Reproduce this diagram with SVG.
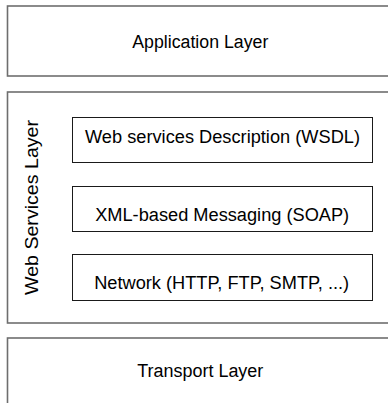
<svg xmlns="http://www.w3.org/2000/svg" width="388" height="403" viewBox="0 0 388 403">
<style>
.outer{fill:#fff;stroke:#6e6e6e;stroke-width:1.6}
.inner{fill:#fff;stroke:#1a1a1a;stroke-width:1}
.t{font-family:"Liberation Sans",Arial,sans-serif;font-size:18px;fill:#000;text-anchor:middle}
</style>
<rect width="388" height="403" fill="#fff"/>
<g id="application-layer">
<rect class="outer" x="7.5" y="6" width="400" height="70"/>
<text class="t" x="200.3" y="47.7" textLength="136" lengthAdjust="spacingAndGlyphs">Application Layer</text>
</g>
<g id="web-services-layer">
<rect class="outer" x="7.5" y="92" width="400" height="231"/>
<text class="t" transform="translate(37.7,207.5) rotate(-90)" x="0" y="0" textLength="175" lengthAdjust="spacingAndGlyphs">Web Services Layer</text>
</g>
<g id="wsdl">
<rect class="inner" x="72.5" y="117.5" width="300" height="45"/>
<text class="t" x="222.5" y="143.4" textLength="275" lengthAdjust="spacingAndGlyphs">Web services Description (WSDL)</text>
</g>
<g id="soap">
<rect class="inner" x="72.5" y="186.5" width="300" height="45"/>
<text class="t" x="222.2" y="221" textLength="254" lengthAdjust="spacingAndGlyphs">XML-based Messaging (SOAP)</text>
</g>
<g id="network">
<rect class="inner" x="72.5" y="254.5" width="300" height="46"/>
<text class="t" x="221.7" y="289.4" textLength="255" lengthAdjust="spacingAndGlyphs">Network (HTTP, FTP, SMTP, ...)</text>
</g>
<g id="transport-layer">
<rect class="outer" x="7.5" y="338" width="400" height="100"/>
<text class="t" x="200.3" y="376.7" textLength="126" lengthAdjust="spacingAndGlyphs">Transport Layer</text>
</g>
<g id="connectors"></g>
</svg>
